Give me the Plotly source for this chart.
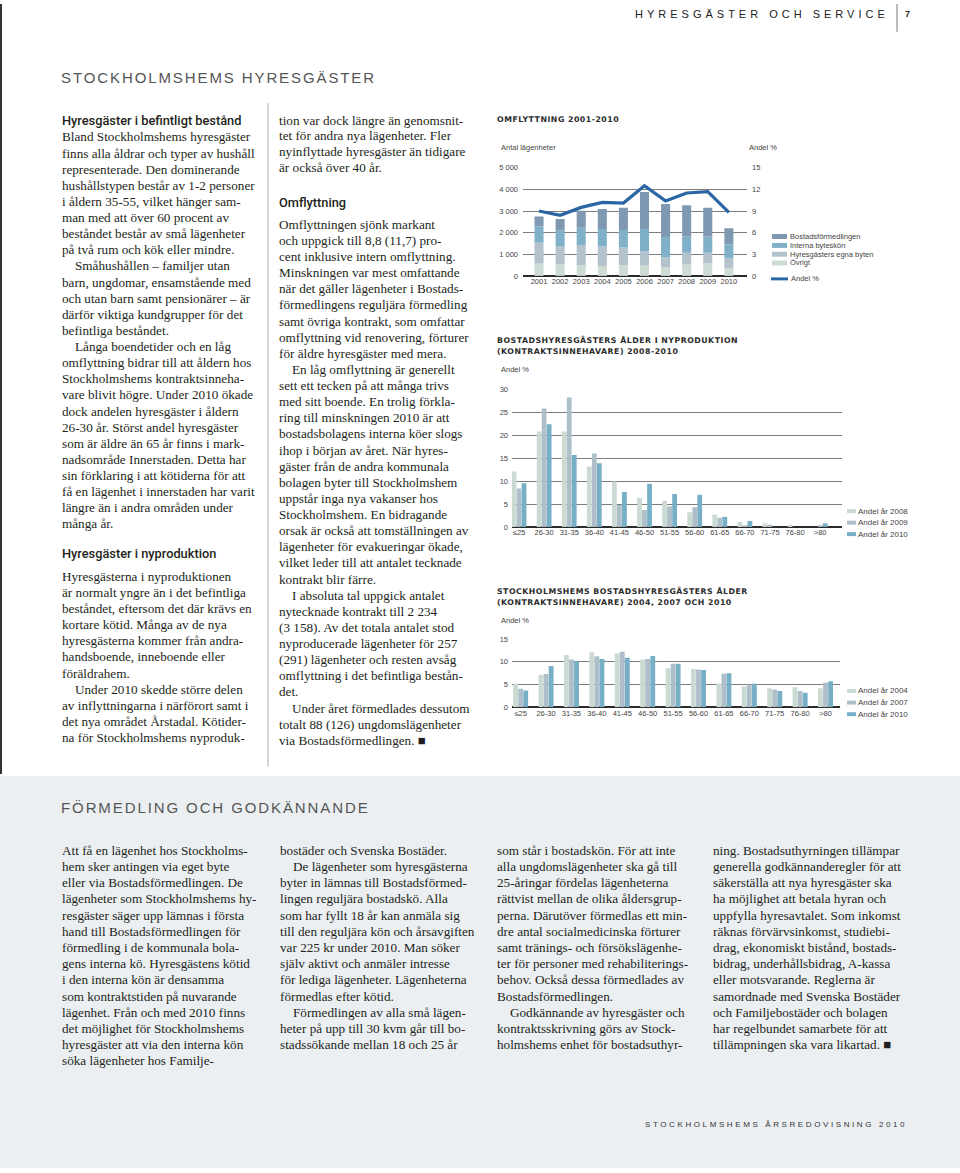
import plotly.graph_objects as go

W, H = 960, 1173

# ---------------- DATA ----------------
years = ["2001", "2002", "2003", "2004", "2005", "2006", "2007", "2008", "2009", "2010"]
ovrigt = [570, 520, 490, 460, 490, 470, 410, 520, 580, 370]
hyres_byten = [960, 840, 920, 900, 820, 660, 450, 550, 490, 460]
interna = [750, 750, 820, 810, 810, 1040, 940, 750, 750, 620]
bostadsform = [460, 520, 780, 920, 1030, 1710, 1520, 1450, 1330, 750]
andel_pct = [9.0, 8.4, 9.5, 10.2, 10.1, 12.5, 10.4, 11.5, 11.7, 8.8]

left_ticks = [0, 1000, 2000, 3000, 4000, 5000]
left_ticktext = ["0", "1 000", "2 000", "3 000", "4 000", "5 000"]
right_ticks = [0, 3, 6, 9, 12, 15]

age_groups = ["≤25", "26-30", "31-35", "36-40", "41-45", "46-50", "51-55",
              "56-60", "61-65", "66-70", "71-75", "76-80", ">80"]
ny_2008 = [12.1, 20.8, 20.8, 13.2, 9.9, 6.3, 5.7, 3.2, 2.7, 1.1, 0.8, 0.5, 0.0]
ny_2009 = [8.4, 25.8, 28.2, 16.0, 4.8, 3.7, 4.5, 4.3, 2.0, 0.2, 0.5, 0.0, 0.4]
ny_2010 = [9.5, 22.4, 15.7, 13.9, 7.6, 9.4, 7.2, 7.0, 2.2, 1.3, 0.0, 0.0, 0.8]

alla_2004 = [5.2, 7.1, 11.5, 12.1, 11.9, 10.5, 8.6, 8.4, 5.2, 4.6, 4.2, 4.4, 4.2]
alla_2007 = [4.1, 7.3, 10.5, 11.2, 12.2, 10.6, 9.6, 8.3, 7.4, 5.0, 3.9, 3.6, 5.4]
alla_2010 = [3.7, 9.1, 10.1, 10.6, 10.9, 11.3, 9.6, 8.2, 7.5, 5.2, 3.6, 3.2, 5.7]

# ---------------- STYLE ----------------
C_BOST = "#8099b2"
C_INT = "#80b1c9"
C_HYR = "#b3c2cb"
C_OVR = "#cfdcd5"
C_LINE = "#2a66a3"
C_Y1 = "#cbdad2"
C_Y2 = "#afbfca"
C_Y3 = "#77afc6"

SERIF = "Liberation Serif"
SANS = "Liberation Sans"
TXT = "#231f20"


def fx(x):
    return x / W


def fy(y):
    return 1 - y / H


fig = go.Figure()

# ---------- Chart 1: Omflyttning ----------
base = [0] * len(years)
for name, vals, col in [("Övrigt", ovrigt, C_OVR),
                        ("Hyresgästers egna byten", hyres_byten, C_HYR),
                        ("Interna byteskön", interna, C_INT),
                        ("Bostadsförmedlingen", bostadsform, C_BOST)]:
    fig.add_trace(go.Bar(x=years, y=vals, base=list(base), name=name,
                         marker=dict(color=col, line=dict(width=0)),
                         width=0.43, offset=-0.215, xaxis="x", yaxis="y",
                         showlegend=False))
    base = [b + v for b, v in zip(base, vals)]

fig.add_trace(go.Scatter(x=years, y=andel_pct, mode="lines", name="Andel %",
                         line=dict(color=C_LINE, width=3.2),
                         xaxis="x", yaxis="y2", showlegend=False))

# ---------- Chart 2: nyproduktion ----------
for vals, col, off in [(ny_2008, C_Y1, -0.295), (ny_2009, C_Y2, -0.095), (ny_2010, C_Y3, 0.105)]:
    fig.add_trace(go.Bar(x=age_groups, y=vals, marker=dict(color=col, line=dict(width=0)),
                         width=0.19, offset=off, xaxis="x3", yaxis="y3", showlegend=False))

# ---------- Chart 3: alla ----------
for vals, col, off in [(alla_2004, C_Y1, -0.295), (alla_2007, C_Y2, -0.095), (alla_2010, C_Y3, 0.105)]:
    fig.add_trace(go.Bar(x=age_groups, y=vals, marker=dict(color=col, line=dict(width=0)),
                         width=0.19, offset=off, xaxis="x4", yaxis="y4", showlegend=False))

tickfont = dict(family=SANS, size=7.5, color="#444")
grid = "#7d7d7d"

fig.update_layout(
    width=W, height=H, margin=dict(l=0, r=0, t=0, b=0),
    paper_bgcolor="white", plot_bgcolor="rgba(0,0,0,0)",
    barmode="overlay",
    xaxis=dict(domain=[fx(523), fx(747)], type="category", range=[-0.76, 9.86],
               showgrid=False, ticks="", tickfont=tickfont, anchor="y",
               showline=False, zeroline=False, fixedrange=True),
    yaxis=dict(domain=[fy(274), fy(165)], range=[0, 5000], tickvals=left_ticks,
               ticktext=left_ticktext, showgrid=True, gridcolor=grid, gridwidth=1,
               zeroline=True, zerolinecolor="#2b2b2b", zerolinewidth=1.5,
               tickfont=tickfont, ticks="", anchor="x", ticklabelstandoff=4),
    yaxis2=dict(overlaying="y", side="right", range=[0, 15], tickvals=right_ticks,
                showgrid=False, zeroline=False, tickfont=tickfont, ticks="",
                anchor="x", ticklabelstandoff=4),
    xaxis3=dict(domain=[fx(512), fx(842)], type="category", range=[-0.28, 12.87],
                showgrid=False, ticks="", tickfont=tickfont, anchor="y3",
                zeroline=False),
    yaxis3=dict(domain=[fy(527), fy(388.3)], range=[0, 30], tickvals=[0, 5, 10, 15, 20, 25, 30],
                showgrid=True, gridcolor=grid, gridwidth=1, zeroline=True,
                zerolinecolor="#2b2b2b", zerolinewidth=1.5, tickfont=tickfont,
                ticks="", anchor="x3", ticklabelstandoff=3),
    xaxis4=dict(domain=[fx(512), fx(840)], type="category", range=[-0.34, 12.57],
                showgrid=False, ticks="", tickfont=tickfont, anchor="y4",
                zeroline=False),
    yaxis4=dict(domain=[fy(708.7), fy(640)], range=[0, 15], tickvals=[0, 5, 10, 15],
                showgrid=True, gridcolor=grid, gridwidth=1, zeroline=True,
                zerolinecolor="#2b2b2b", zerolinewidth=1.5, tickfont=tickfont,
                ticks="", anchor="x4", ticklabelstandoff=3),
)

shapes = []
anns = []

# bottom background
shapes.append(dict(type="rect", xref="paper", yref="paper", x0=0, x1=1, y0=0, y1=fy(778),
                   fillcolor="#ebeff2", line=dict(width=0), layer="below"))
# left page edge
shapes.append(dict(type="line", xref="paper", yref="paper", x0=fx(1), x1=fx(1), y0=fy(0), y1=fy(776),
                   line=dict(color="#333", width=2)))
# header separator
shapes.append(dict(type="line", xref="paper", yref="paper", x0=fx(897), x1=fx(897), y0=fy(0), y1=fy(28),
                   line=dict(color="#777", width=1)))
# column separator
shapes.append(dict(type="line", xref="paper", yref="paper", x0=fx(268), x1=fx(268), y0=fy(100), y1=fy(768),
                   line=dict(color="#aaa", width=1)))


def txt(x, y, s, size=13.2, family=SERIF, color=TXT, weight=None, anchor="left"):
    f = dict(family=family, size=size, color=color)
    if weight:
        f["weight"] = weight
    anns.append(dict(x=fx(x), y=fy(y), xref="paper", yref="paper", text=s, showarrow=False,
                     xanchor=anchor, yanchor="middle", font=f, borderpad=0, borderwidth=0))


def spaced(s, sp):
    return f'<span style="letter-spacing:{sp}px">{s}</span>'


# header
txt(635, 10, spaced("HYRESGÄSTER OCH SERVICE", 4.0), size=11, family=SANS, color="#222")
txt(905, 10, "<b>7</b>", size=9, family=SANS, color="#222")
txt(61, 74, spaced("STOCKHOLMSHEMS HYRESGÄSTER", 1.9), size=15, family=SANS, color="#555")
txt(61, 810, spaced("FÖRMEDLING OCH GODKÄNNANDE", 1.9), size=15, family=SANS, color="#555")
txt(645, 1129, spaced("STOCKHOLMSHEMS ÅRSREDOVISNING 2010", 2.6), size=8, family=SANS, color="#333")


def head(x, y, s):
    txt(x, y, s, size=12.8, family="Roboto", color=TXT, weight=500)


def block(x, y0, step, lines):
    for i, ln in enumerate(lines):
        ind = 0
        if ln.startswith(">"):
            ind = 13
            ln = ln[1:]
        txt(x + ind, y0 + i * step, ln)


# column 1
head(62, 117, "Hyresgäster i befintligt bestånd")
block(62, 134, 16.25, [
    "Bland Stockholmshems hyresgäster",
    "finns alla åldrar och typer av hushåll",
    "representerade. Den dominerande",
    "hushållstypen består av 1-2 personer",
    "i åldern 35-55, vilket hänger sam-",
    "man med att över 60 procent av",
    "beståndet består av små lägenheter",
    "på två rum och kök eller mindre.",
    ">Småhushållen – familjer utan",
    "barn, ungdomar, ensamstående med",
    "och utan barn samt pensionärer – är",
    "därför viktiga kundgrupper för det",
    "befintliga beståndet.",
    ">Långa boendetider och en låg",
    "omflyttning bidrar till att åldern hos",
    "Stockholmshems kontraktsinneha-",
    "vare blivit högre. Under 2010 ökade",
    "dock andelen hyresgäster i åldern",
    "26-30 år. Störst andel hyresgäster",
    "som är äldre än 65 år finns i mark-",
    "nadsområde Innerstaden. Detta har",
    "sin förklaring i att kötiderna för att",
    "få en lägenhet i innerstaden har varit",
    "längre än i andra områden under",
    "många år.",
])
head(62, 554, "Hyresgäster i nyproduktion")
block(62, 577, 16.2, [
    "Hyresgästerna i nyproduktionen",
    "är normalt yngre än i det befintliga",
    "beståndet, eftersom det där krävs en",
    "kortare kötid. Många av de nya",
    "hyresgästerna kommer från andra-",
    "handsboende, inneboende eller",
    "föräldrahem.",
    ">Under 2010 skedde större delen",
    "av inflyttningarna i närförort samt i",
    "det nya området Årstadal. Kötider-",
    "na för Stockholmshems nyproduk-",
])

# column 2
block(279, 117, 16.0, [
    "tion var dock längre än genomsnit-",
    "tet för andra nya lägenheter. Fler",
    "nyinflyttade hyresgäster än tidigare",
    "är också över 40 år.",
])
head(279, 200, "Omflyttning")
block(279, 222, 16.25, [
    "Omflyttningen sjönk markant",
    "och uppgick till 8,8 (11,7) pro-",
    "cent inklusive intern omflyttning.",
    "Minskningen var mest omfattande",
    "när det gäller lägenheter i Bostads-",
    "förmedlingens reguljära förmedling",
    "samt övriga kontrakt, som omfattar",
    "omflyttning vid renovering, förturer",
    "för äldre hyresgäster med mera.",
    ">En låg omflyttning är generellt",
    "sett ett tecken på att många trivs",
    "med sitt boende. En trolig förkla-",
    "ring till minskningen 2010 är att",
    "bostadsbolagens interna köer slogs",
    "ihop i början av året. När hyres-",
    "gäster från de andra kommunala",
    "bolagen byter till Stockholmshem",
    "uppstår inga nya vakanser hos",
    "Stockholmshem. En bidragande",
    "orsak är också att tomställningen av",
    "lägenheter för evakueringar ökade,",
    "vilket leder till att antalet tecknade",
    "kontrakt blir färre.",
    ">I absoluta tal uppgick antalet",
    "nytecknade kontrakt till 2 234",
    "(3 158). Av det totala antalet stod",
    "nyproducerade lägenheter för 257",
    "(291) lägenheter och resten avsåg",
    "omflyttning i det befintliga bestån-",
    "det.",
    ">Under året förmedlades dessutom",
    "totalt 88 (126) ungdomslägenheter",
    "via Bostadsförmedlingen. ■",
])

# bottom columns
block(62, 853, 16.3, [
    "Att få en lägenhet hos Stockholms-",
    "hem sker antingen via eget byte",
    "eller via Bostadsförmedlingen. De",
    "lägenheter som Stockholmshems hy-",
    "resgäster säger upp lämnas i första",
    "hand till Bostadsförmedlingen för",
    "förmedling i de kommunala bola-",
    "gens interna kö. Hyresgästens kötid",
    "i den interna kön är densamma",
    "som kontraktstiden på nuvarande",
    "lägenhet. Från och med 2010 finns",
    "det möjlighet för Stockholmshems",
    "hyresgäster att via den interna kön",
    "söka lägenheter hos Familje-",
])
block(280, 853, 16.3, [
    "bostäder och Svenska Bostäder.",
    ">De lägenheter som hyresgästerna",
    "byter in lämnas till Bostadsförmed-",
    "lingen reguljära bostadskö. Alla",
    "som har fyllt 18 år kan anmäla sig",
    "till den reguljära kön och årsavgiften",
    "var 225 kr under 2010. Man söker",
    "själv aktivt och anmäler intresse",
    "för lediga lägenheter. Lägenheterna",
    "förmedlas efter kötid.",
    ">Förmedlingen av alla små lägen-",
    "heter på upp till 30 kvm går till bo-",
    "stadssökande mellan 18 och 25 år",
])
block(497, 853, 16.3, [
    "som står i bostadskön. För att inte",
    "alla ungdomslägenheter ska gå till",
    "25-åringar fördelas lägenheterna",
    "rättvist mellan de olika åldersgrup-",
    "perna. Därutöver förmedlas ett min-",
    "dre antal socialmedicinska förturer",
    "samt tränings- och försökslägenhe-",
    "ter för personer med rehabiliterings-",
    "behov. Också dessa förmedlades av",
    "Bostadsförmedlingen.",
    ">Godkännande av hyresgäster och",
    "kontraktsskrivning görs av Stock-",
    "holmshems enhet för bostadsuthyr-",
])
block(713, 853, 16.3, [
    "ning. Bostadsuthyrningen tillämpar",
    "generella godkännanderegler för att",
    "säkerställa att nya hyresgäster ska",
    "ha möjlighet att betala hyran och",
    "uppfylla hyresavtalet. Som inkomst",
    "räknas förvärvsinkomst, studiebi-",
    "drag, ekonomiskt bistånd, bostads-",
    "bidrag, underhållsbidrag, A-kassa",
    "eller motsvarande. Reglerna är",
    "samordnade med Svenska Bostäder",
    "och Familjebostäder och bolagen",
    "har regelbundet samarbete för att",
    "tillämpningen ska vara likartad. ■",
])

# chart titles / axis titles
CT = dict(size=7.8, family="DejaVu Sans", color="#2b2b2b")


def ctitle(x, y, s):
    txt(x, y, "<b>" + spaced(s, 0.5) + "</b>", **CT)


ctitle(497, 116.5, "OMFLYTTNING 2001-2010")
ctitle(497, 338.5, "BOSTADSHYRESGÄSTERS ÅLDER I NYPRODUKTION")
ctitle(497, 350, "(KONTRAKTSINNEHAVARE) 2008-2010")
ctitle(497, 592, "STOCKHOLMSHEMS BOSTADSHYRESGÄSTERS ÅLDER")
ctitle(497, 603.5, "(KONTRAKTSINNEHAVARE) 2004, 2007 OCH 2010")

small = dict(size=7.5, family=SANS, color="#444")
txt(501, 145, "Antal lägenheter", **small)
txt(749, 145, "Andel %", **small)
txt(501, 368, "Andel %", **small)
txt(501, 621, "Andel %", **small)


# legends (manual)
def swatch(x0, x1, yc, h, col):
    shapes.append(dict(type="rect", xref="paper", yref="paper", x0=fx(x0), x1=fx(x1),
                       y0=fy(yc + h / 2), y1=fy(yc - h / 2), fillcolor=col,
                       line=dict(width=0)))


for yc, col, lab in [(234.3, C_BOST, "Bostadsförmedlingen"),
                     (243.3, C_INT, "Interna byteskön"),
                     (252.2, C_HYR, "Hyresgästers egna byten"),
                     (261, C_OVR, "Övrigt")]:
    swatch(772, 787, yc, 5, col)
    txt(790, yc, lab, **small)
swatch(771, 788, 277, 3, C_LINE)
txt(791, 277, "Andel %", **small)

for yc, col, lab in [(511, C_Y1, "Andel år 2008"), (522.7, C_Y2, "Andel år 2009"), (534.2, C_Y3, "Andel år 2010")]:
    swatch(847, 856, yc, 4, col)
    txt(858, yc, lab, size=8, family=SANS, color="#444")
for yc, col, lab in [(692.3, C_Y1, "Andel år 2004"), (704, C_Y2, "Andel år 2007"), (715.7, C_Y3, "Andel år 2010")]:
    swatch(847, 856, yc, 4, col)
    txt(858, yc, lab, size=8, family=SANS, color="#444")

fig.update_layout(shapes=shapes, annotations=anns)
fig.write_html("out.html", config={"displayModeBar": False},
               post_script="document.body.style.margin='0';")
